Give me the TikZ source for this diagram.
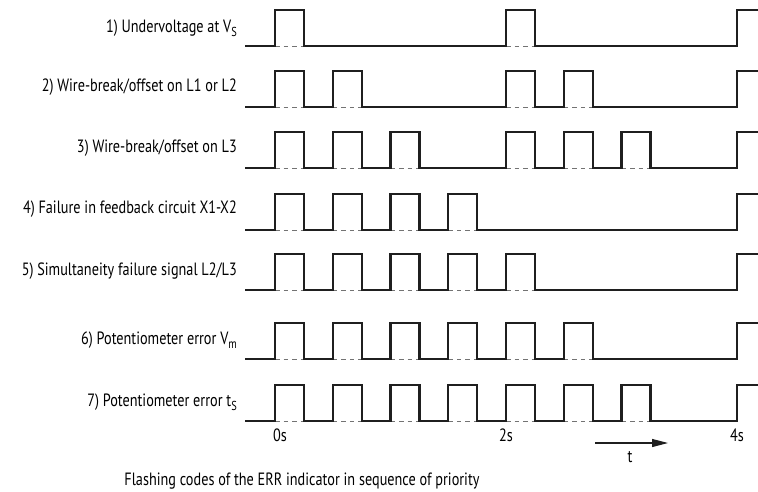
\documentclass[tikz,border=0pt]{standalone}
\usepackage{fontspec}
\setmainfont[FakeStretch=0.80]{PT Sans}
\usetikzlibrary{arrows.meta}
\newcommand\sbs[1]{\raisebox{-0.28em}{\fontsize{13}{13}\selectfont #1}}
\begin{document}
\begin{tikzpicture}[x=1pt,y=-1pt,
  sig/.style={line width=2.2pt, draw=black!88, line join=miter},
  gapline/.style={line width=1pt, draw=black!55, dash pattern=on 4.5pt off 4pt},
  lbl/.style={anchor=base east, inner sep=0pt, font=\fontsize{17.8}{20}\selectfont},
  tick/.style={anchor=base, inner sep=0pt, font=\fontsize{17.8}{20}\selectfont}]
\useasboundingbox (0,0) rectangle (758,491);
% rows: baseline ; pulse indices ; label baseline ; label
\foreach \b/\ks/\lb/\txt in {
  46/{0,4}/32/{1) Undervoltage at V\sbs{S}},
  107/{0,1,4,5}/91/{2) Wire-break/offset on L1 or L2},
  168/{0,1,2,4,5,6}/152/{3) Wire-break/offset on L3},
  230/{0,1,2,3}/213/{4) Failure in feedback circuit X1-X2},
  290/{0,1,2,3,4}/275/{5) Simultaneity failure signal L2/L3},
  359/{0,1,2,3,4,5}/344/{6) Potentiometer error V\sbs{m}},
  421/{0,1,2,3,4,5,6}/406/{7) Potentiometer error t\sbs{S}}}{
  \foreach \k in \ks {
    \draw[gapline] ({275+57.75*\k},\b) -- ({275+57.75*\k+28.9},\b);
  }
  \draw[sig] (245,\b)
    \foreach \k in \ks {
      -- ({275+57.75*\k},\b) -- ({275+57.75*\k},\b-36)
      -- ({275+57.75*\k+28.9},\b-36) -- ({275+57.75*\k+28.9},\b)
    }
    -- (737,\b) -- (737,\b-36) -- (758,\b-36);
  \node[lbl] (lab\b) at (237,\lb) {\txt};
}
% time axis labels
\node[tick] (t0) at (280,441) {0s};
\node[tick] (t2) at (506,441) {2s};
\node[tick] (t4) at (737,441) {4s};
\coordinate (a1) at (595,443);
\coordinate (a2) at (668,443);
\draw[line width=1.1pt, black!88, -{Triangle[length=16pt,width=8pt]}] (a1) -- (a2);
\node[tick] (tt) at (630,462) {t};
\node[anchor=base, inner sep=0pt, font=\fontsize{17.8}{20}\selectfont] (cap) at (302,485)
  {Flashing codes of the ERR indicator in sequence of priority};
\end{tikzpicture}
\end{document}
